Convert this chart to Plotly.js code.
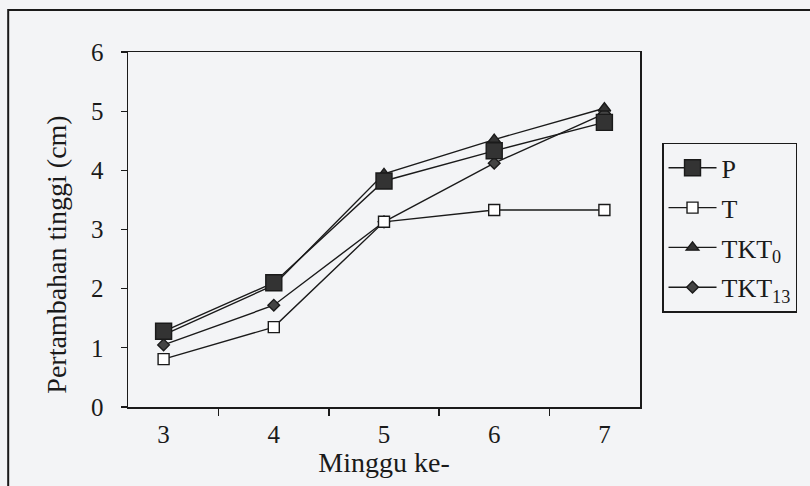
<!DOCTYPE html>
<html>
<head>
<meta charset="utf-8">
<script src="https://cdn.plot.ly/plotly-3.0.1.min.js"></script>
<style>html,body{margin:0;padding:0;background:#f3f4f6;}#chart{width:810px;height:486px;}</style>
</head>
<body>
<div id="chart"></div>
<script>
const weeks = ["3", "4", "5", "6", "7"];
const seriesNames = ["P", "T", "TKT<sub>0</sub>", "TKT<sub>13</sub>"];
const valuesP = [1.28, 2.10, 3.82, 4.33, 4.81];
const valuesT = [0.81, 1.35, 3.13, 3.33, 3.33];
const valuesTKT0 = [1.22, 2.06, 3.94, 4.52, 5.05];
const valuesTKT13 = [1.05, 1.72, 3.13, 4.12, 4.96];
const yTicks = [0, 1, 2, 3, 4, 5, 6];

const ink = "#1a1a1a";
const font = "Liberation Serif";

function tr(name, y, symbol, size, fill, group, rank) {
  return {
    type: "scatter", mode: "lines+markers", name: name, x: weeks, y: y,
    legendgroup: group, legendrank: rank,
    line: {color: ink, width: 1.4},
    marker: {symbol: symbol, size: size, color: fill, line: {color: ink, width: 1.4}},
    cliponaxis: false
  };
}

const data = [
  tr(seriesNames[3], valuesTKT13, "diamond", 9, "#444", "d", 4),
  tr(seriesNames[2], valuesTKT0, "triangle-up", 11, "#333", "c", 3),
  tr(seriesNames[1], valuesT, "square", 11, "#ffffff", "b", 2),
  tr(seriesNames[0], valuesP, "square", 16, "#333", "a", 1)
];

const layout = {
  width: 810, height: 486,
  margin: {l: 128, r: 170, t: 52, b: 79},
  paper_bgcolor: "#f3f4f6",
  plot_bgcolor: "#f3f4f6",
  font: {family: font, color: ink, size: 25},
  showlegend: true,
  legend: {
    x: 1.043, y: 0.744, xanchor: "left", yanchor: "top",
    bgcolor: "#f3f4f6", bordercolor: ink, borderwidth: 1.5,
    font: {family: font, size: 26, color: ink},
    traceorder: "grouped", tracegroupgap: 3,
    itemwidth: 48
  },
  xaxis: {
    type: "category", categoryorder: "array", categoryarray: weeks,
    tickson: "boundaries", ticks: "outside", ticklen: 7, tickwidth: 1.3, tickcolor: ink,
    showline: true, linecolor: ink, linewidth: 1.5, mirror: true,
    showgrid: false, zeroline: false,
    tickfont: {family: font, size: 25, color: ink}, ticklabelstandoff: 4,
    title: {text: "Minggu ke-", font: {family: font, size: 28, color: ink}, standoff: 6}
  },
  yaxis: {
    range: [0, 6], tickvals: yTicks, ticks: "outside", ticklen: 6, tickwidth: 1.3, tickcolor: ink,
    showline: true, linecolor: ink, linewidth: 1.5, mirror: true,
    showgrid: false, zeroline: false,
    tickfont: {family: font, size: 25, color: ink}, ticklabelstandoff: 12
  },
  annotations: [{
    text: "Pertambahan tinggi (cm)", textangle: -90,
    xref: "paper", yref: "paper", x: -0.14, y: 0.43,
    xanchor: "center", yanchor: "middle", showarrow: false,
    font: {family: font, size: 28, color: ink}
  }],
  shapes: [{
    type: "rect", xref: "paper", yref: "paper",
    x0: -0.234, x1: 1.36, y0: -0.25, y1: 1.118,
    line: {color: ink, width: 2}, layer: "below"
  }]
};

Plotly.newPlot("chart", data, layout, {displayModeBar: false, staticPlot: true});
</script>
</body>
</html>
